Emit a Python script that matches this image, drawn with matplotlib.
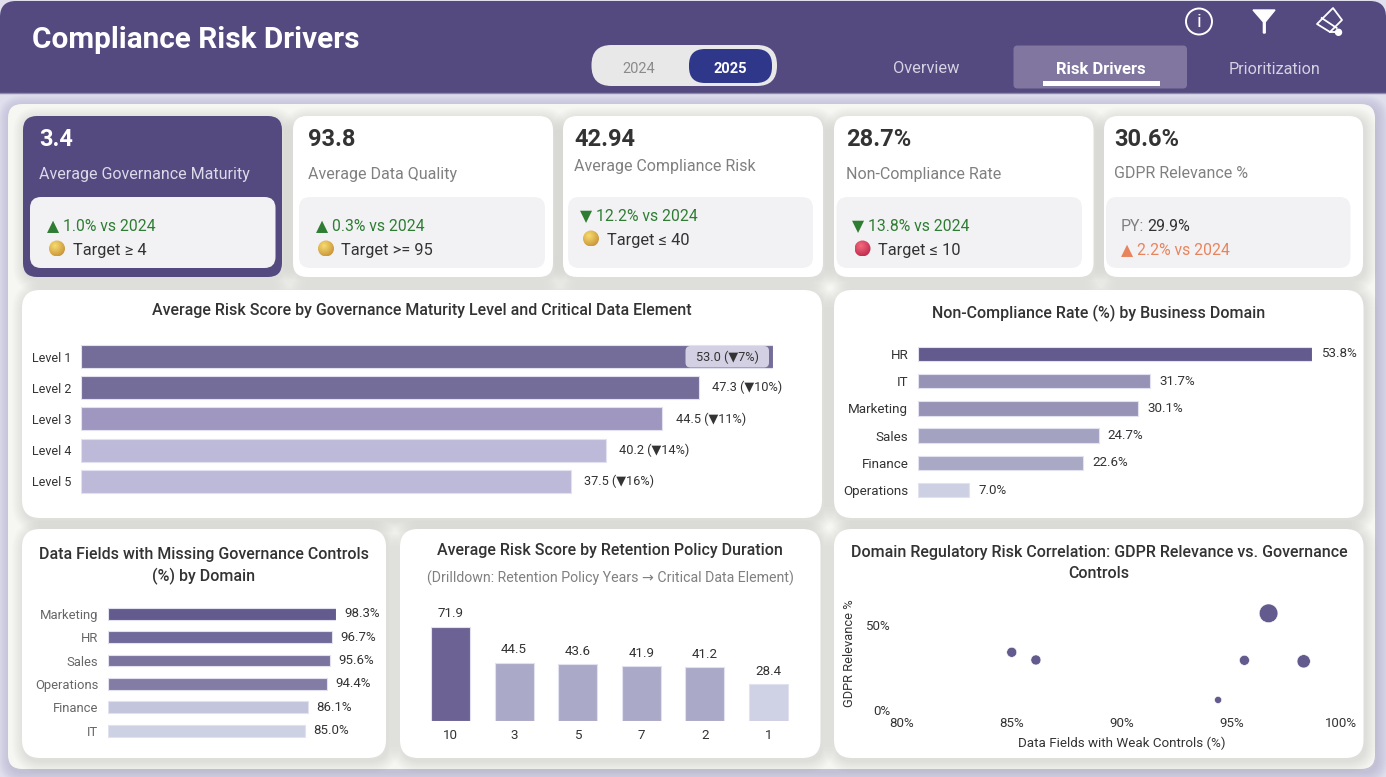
import matplotlib
matplotlib.use("Agg")
import matplotlib.pyplot as plt
import numpy as np
from matplotlib.patches import Circle, FancyBboxPatch, Polygon

W, H = 1386, 777
FONT = ["Roboto", "DejaVu Sans"]
plt.rcParams["font.family"] = FONT

PURPLE = "#544a80"
DARK = "#333333"
GREY = "#808080"
GREEN = "#2e7d32"
ORANGE = "#e8845c"
BAR_EDGE = "#e2e1f0"

# chart data
maturity_levels = ["Level 1", "Level 2", "Level 3", "Level 4", "Level 5"]
maturity_scores = [53.0, 47.3, 44.5, 40.2, 37.5]
maturity_change = [7, 10, 11, 14, 16]
maturity_colors = ["#756d99", "#756d99", "#9f97c0", "#bdb9d8", "#bdb9d8"]

domains = ["HR", "IT", "Marketing", "Sales", "Finance", "Operations"]
noncompliance = [53.8, 31.7, 30.1, 24.7, 22.6, 7.0]
noncompliance_colors = ["#635a8d", "#9793b6", "#9793b6", "#a4a2c1", "#a9a8c5", "#cdd0e3"]

missing_domains = ["Marketing", "HR", "Sales", "Operations", "Finance", "IT"]
missing_controls = [98.3, 96.7, 95.6, 94.4, 86.1, 85.0]
missing_colors = ["#635a8d", "#6f6a9a", "#7a749f", "#837ca5", "#c2c5dc", "#cdd1e4"]

retention_years = ["10", "3", "5", "7", "2", "1"]
retention_scores = [71.9, 44.5, 43.6, 41.9, 41.2, 28.4]
retention_colors = ["#6c6394", "#aaa9c7", "#aaa9c7", "#aaa9c7", "#aaa9c7", "#cfd2e4"]

weak_controls = [85.0, 86.1, 94.4, 95.6, 96.7, 98.3]
gdpr_relevance = [33.8, 29.3, 5.9, 29.1, 56.6, 28.5]
bubble_weight = [2.0, 2.0, 1.0, 2.0, 7.0, 3.5]

kpi_values = ["3.4", "93.8", "42.94", "28.7%", "30.6%"]
kpi_labels = [
    "Average Governance Maturity",
    "Average Data Quality",
    "Average Compliance Risk",
    "Non-Compliance Rate",
    "GDPR Relevance %",
]
kpi_changes = ["▲ 1.0% vs 2024", "▲ 0.3% vs 2024", "▼ 12.2% vs 2024", "▼ 13.8% vs 2024", "▲ 2.2% vs 2024"]
kpi_targets = ["Target ≥ 4", "Target >= 95", "Target ≤ 40", "Target ≤ 10", None]


def rrect(ax, x0, y0, x1, y1, r, color, **kw):
    patch = FancyBboxPatch(
        (x0, y0), x1 - x0, y1 - y0,
        boxstyle=f"round,pad=0,rounding_size={r}",
        facecolor=color, edgecolor="none", **kw,
    )
    ax.add_patch(patch)
    return patch


def shadow(ax, x0, y0, x1, y1, r, spread=12, alpha=0.009, tint="#55554a"):
    for i in range(spread, 0, -1):
        rrect(ax, x0 - i + 2, y0 - i + 3, x1 + i + 2, y1 + i + 3, r + i, tint, alpha=alpha)


def card(ax, x0, y0, x1, y1, r=14, color="white"):
    shadow(ax, x0, y0, x1, y1, r)
    rrect(ax, x0, y0, x1, y1, r, color)


def ball(ax, cx, cy, r, light, dark):
    # small shaded sphere used as the target status marker
    yy, xx = np.mgrid[-1:1:48j, -1:1:48j]
    dist = np.clip(np.hypot(xx + 0.25, yy + 0.3) / 1.45, 0, 1)[..., None]
    c0 = np.array(matplotlib.colors.to_rgb(light))
    c1 = np.array(matplotlib.colors.to_rgb(dark))
    im = ax.imshow(c0 + (c1 - c0) * dist, extent=(cx - r, cx + r, cy + r, cy - r),
                   origin="upper", aspect="auto", zorder=5)
    im.set_clip_path(Circle((cx, cy), r, transform=ax.transData))


def chart_axes(fig, x0, y0, x1, y1):
    ax = fig.add_axes([x0 / W, 1 - y1 / H, (x1 - x0) / W, (y1 - y0) / H])
    ax.patch.set_alpha(0)
    for spine in ax.spines.values():
        spine.set_visible(False)
    ax.tick_params(length=0)
    return ax


def hbar_chart(fig, box, labels, values, colors, fmt, xmax, tick_color, tick_size, label_size, height, pad):
    ax = chart_axes(fig, *box)
    pos = np.arange(len(values))
    ax.barh(pos, values, height=height, color=colors, edgecolor=BAR_EDGE, linewidth=0.8)
    ax.set_xlim(0, xmax)
    ax.set_ylim(len(values) - 0.5, -0.5)
    ax.set_yticks(pos, labels, fontsize=tick_size, color=tick_color)
    ax.set_xticks([])
    ax.tick_params(axis="y", pad=7)
    for p, v, text in zip(pos, values, fmt):
        ax.annotate(text, (v, p), xytext=(pad, 0), textcoords="offset points",
                    va="center", ha="left", fontsize=label_size, color=DARK, annotation_clip=False)
    return ax


def title(ax, x, y, text, size=11.55, weight="medium", color=DARK):
    ax.text(x, y, text, fontsize=size, fontweight=weight, color=color, ha="center", va="center")


fig = plt.figure(figsize=(W / 100, H / 100), dpi=100, facecolor="#dfdfed")
base = fig.add_axes([0, 0, 1, 1])
base.set_xlim(0, W)
base.set_ylim(H, 0)
base.axis("off")

# page header
rrect(base, 0, 1, W, 60, 16, PURPLE)
base.fill_between([0, W], 30, 93, color=PURPLE, linewidth=0)
base.plot([0, W], [93, 93], color="#8f89ad", lw=1)
base.text(32, 40, "Compliance Risk Drivers", fontsize=21.4, fontweight="bold", color="white", va="center")

# year toggle
rrect(base, 591.5, 45, 777, 86, 20, "#e8e8e8")
rrect(base, 689, 49, 772, 83, 16, "#2f378a")
title(base, 639, 69, "2024", 10.5, "normal", "#8a8a8a")
title(base, 730, 69, "2025", 10.5, "bold", "white")

# page tabs
rrect(base, 1013.5, 45.5, 1187, 88.5, 4, "#80769f")
title(base, 926, 68.5, "Overview", 11.8, "normal", "#d5d2e3")
title(base, 1101, 69.5, "Risk Drivers", 12, "bold", "white")
title(base, 1274.5, 69.5, "Prioritization", 11.6, "normal", "#d5d2e3")
base.fill_between([1043, 1160], 81, 85.5, color="white", linewidth=0)

# header icons
base.add_patch(Circle((1199, 21.5), 13, fill=False, edgecolor="white", lw=1.4))
title(base, 1199, 22, "i", 14, "normal", "white")
base.add_patch(Polygon([(1253, 10), (1275, 10), (1265.2, 22), (1265.2, 33), (1263.4, 33), (1263.4, 22)],
                       color="white"))
base.add_patch(Polygon([(1333, 8), (1342, 20), (1330, 32), (1317, 24)], fill=False, edgecolor="white",
                       lw=1.3, joinstyle="round"))
base.plot([1321.7, 1336.7], [18, 28], color="white", lw=1.3)
base.plot([1330, 1338], [32, 32], color="white", lw=1.3)
base.add_patch(Circle((1338.5, 32.3), 3, color="white"))

# main panel
shadow(base, 8, 104, 1375, 769, 14, spread=12, alpha=0.02, tint="#6a6898")
rrect(base, 8, 104, 1375, 769, 14, "#f6f6f2")

# KPI cards
card_x = [(23, 282), (293, 553), (563, 823), (834, 1093.5), (1104, 1363)]
inner_x = [(30, 275.5), (299, 545), (568, 813), (836.5, 1082), (1106, 1350.5)]
text_x = [39, 308, 574, 846, 1114]
change_x = [47, 316, 580, 852, 1121]
ball_x = [57, 326, 591, 862.5]
target_x = [73, 341, 607, 878]
ball_tones = [("#f8dc6e", "#c8943a")] * 3 + [("#f56a7e", "#bc2a4c")]

for i in range(5):
    x0, x1 = card_x[i]
    accent = i == 0
    card(base, x0, 116, x1, 277, 14, PURPLE if accent else "white")
    rrect(base, inner_x[i][0], 197, inner_x[i][1], 268, 11, "#f2f2f5")
    # the third card sits its text a little higher than the rest
    shift = -10 if i == 2 else 0
    label_y = 166 if i == 2 else 174
    base.text(text_x[i], 140, kpi_values[i], fontsize=17, fontweight="bold",
              color="white" if accent else DARK, va="center")
    base.text(text_x[i], label_y, kpi_labels[i], fontsize=11.5,
              color="#dcd9e8" if accent else GREY, va="center")
    if i < 4:
        base.text(change_x[i], 226 + shift, kpi_changes[i], fontsize=11.3, color=GREEN, va="center")
        ball(base, ball_x[i], 248.5 + shift, 8, *ball_tones[i])
        base.text(target_x[i], 250 + shift, kpi_targets[i], fontsize=11.8, color=DARK, va="center")
    else:
        base.text(change_x[i], 226.5, "PY:", fontsize=11.5, color=GREY, va="center")
        base.text(1147, 226.5, "29.9%", fontsize=11.5, color=DARK, va="center")
        base.text(change_x[i], 249.5, kpi_changes[i], fontsize=11.3, color=ORANGE, va="center")
base.set_xlim(0, W)
base.set_ylim(H, 0)

# chart cards
card(base, 22, 290, 822, 518, 18)
card(base, 834, 290, 1363.5, 518, 18)
card(base, 22, 529, 386, 758, 18)
card(base, 400, 529, 820.5, 758, 18)
card(base, 834, 529, 1363.5, 758, 18)

title(base, 422, 310, "Average Risk Score by Governance Maturity Level and Critical Data Element")
title(base, 1099, 313, "Non-Compliance Rate (%) by Business Domain")
title(base, 204, 554, "Data Fields with Missing Governance Controls")
title(base, 204, 576, "(%) by Domain")
title(base, 610, 551, "Average Risk Score by Retention Policy Duration")
title(base, 610, 578, "(Drilldown: Retention Policy Years → Critical Data Element)", 10.2, "normal", GREY)
title(base, 1099, 553, "Domain Regulatory Risk Correlation: GDPR Relevance vs. Governance")
title(base, 1099, 574, "Controls")

# risk score by maturity level
maturity_text = [f"{s:.1f} (▼{c}%)" for s, c in zip(maturity_scores, maturity_change)]
hbar_chart(fig, (81, 340.9, 773.4, 496.9), maturity_levels, maturity_scores, maturity_colors,
           [""] + maturity_text[1:], 53.0, DARK, 9, 9.2, 0.74, 9.5)

# non-compliance by domain
hbar_chart(fig, (918, 340.4, 1311.6, 503.6), domains, noncompliance, noncompliance_colors,
           [f"{v:.1f}%" for v in noncompliance], 53.8, DARK, 9.6, 9.6, 0.525, 6.5)

# missing controls by domain
hbar_chart(fig, (108, 602, 336, 742.4), missing_domains, missing_controls, missing_colors,
           [f"{v:.1f}%" for v in missing_controls], 98.3, "#666666", 9.4, 9.5, 0.51, 6)

# retention policy columns
ax_d = chart_axes(fig, 418.75, 605, 800.25, 721.3)
pos = np.arange(len(retention_scores))
bars = ax_d.bar(pos, retention_scores, width=0.615, color=retention_colors, edgecolor=BAR_EDGE, linewidth=0.8)
ax_d.set_xlim(-0.5, len(pos) - 0.5)
ax_d.set_ylim(0, (721.3 - 605) / 1.316)
ax_d.set_xticks(pos, retention_years, fontsize=9.6, color=DARK)
ax_d.set_yticks([])
ax_d.tick_params(axis="x", pad=5.5)
ax_d.bar_label(bars, labels=[f"{v:.1f}" for v in retention_scores], padding=4.5, fontsize=9.6, color=DARK)

# bubble plot of GDPR relevance against weak controls
ax_e = chart_axes(fig, 902, 600, 1341, 716)
ax_e.scatter(weak_controls, gdpr_relevance, s=[b * 26 for b in bubble_weight], color="#635a8d",
             edgecolor="white", linewidth=0.4, clip_on=False)
ax_e.set_xlim(80, 100)
ax_e.set_ylim(-3.5, 64.4)
ax_e.set_xticks([80, 85, 90, 95, 100], ["80%", "85%", "90%", "95%", "100%"], fontsize=9.5, color=DARK)
ax_e.set_yticks([0, 50], ["0%", "50%"], fontsize=9.5, color=DARK)
ax_e.tick_params(axis="x", pad=1)
ax_e.tick_params(axis="y", pad=8)
ax_e.set_xlabel("Data Fields with Weak Controls (%)", fontsize=9.6, color=DARK, labelpad=4.5)
ax_e.set_ylabel("GDPR Relevance %", fontsize=9.3, color=DARK, labelpad=7, y=0.54)

# value pill sits on top of the Level 1 bar
top = fig.add_axes([0, 0, 1, 1])
top.set_xlim(0, W)
top.set_ylim(H, 0)
top.axis("off")
rrect(top, 685.5, 346, 769, 367.5, 5, "#d4d0e3")
title(top, 727, 357.5, maturity_text[0], 9.2, "normal")

fig.savefig("out.png", dpi=100, facecolor=fig.get_facecolor())
plt.close(fig)
